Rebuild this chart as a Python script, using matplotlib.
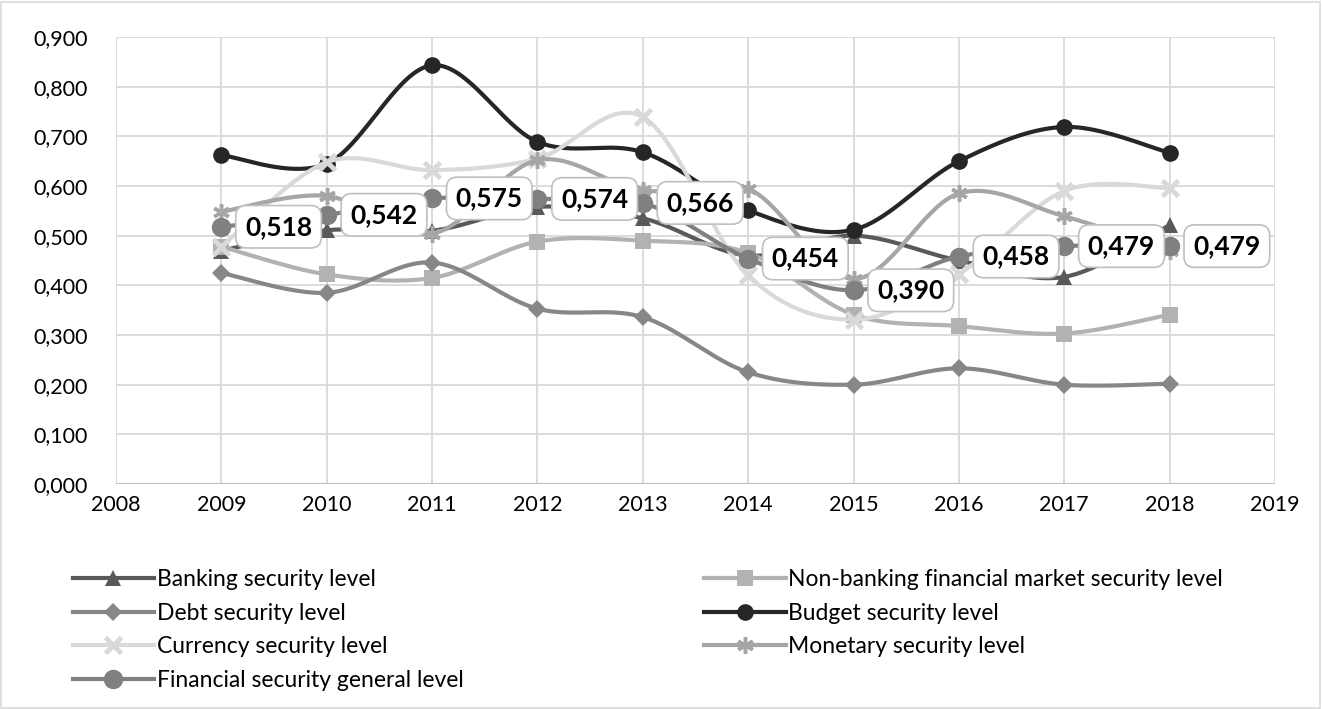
import numpy as np
import matplotlib
matplotlib.use('Agg')
import matplotlib.pyplot as plt
from matplotlib.lines import Line2D
from matplotlib.patches import Rectangle
from matplotlib.ticker import FuncFormatter

plt.rcParams['font.family'] = ['Lato', 'DejaVu Sans']

years = [2009, 2010, 2011, 2012, 2013, 2014, 2015, 2016, 2017, 2018]
banking = [0.470, 0.511, 0.510, 0.558, 0.535, 0.460, 0.500, 0.450, 0.417, 0.521]
nonbanking = [0.478, 0.422, 0.415, 0.488, 0.490, 0.465, 0.341, 0.318, 0.303, 0.341]
debt = [0.425, 0.385, 0.446, 0.353, 0.336, 0.225, 0.200, 0.233, 0.200, 0.202]
budget = [0.662, 0.645, 0.843, 0.689, 0.668, 0.551, 0.512, 0.650, 0.719, 0.667]
currency = [0.478, 0.648, 0.632, 0.655, 0.739, 0.420, 0.331, 0.423, 0.590, 0.596]
monetary = [0.548, 0.580, 0.504, 0.652, 0.591, 0.595, 0.413, 0.585, 0.539, 0.470]
general = [0.518, 0.542, 0.575, 0.574, 0.566, 0.454, 0.390, 0.458, 0.479, 0.479]

names = ['Banking security level', 'Non-banking financial market security level',
         'Debt security level', 'Budget security level',
         'Currency security level', 'Monetary security level',
         'Financial security general level']
series = [banking, nonbanking, debt, budget, currency, monetary, general]
colors = ['#595959', '#b2b2b2', '#878787', '#262626', '#d9d9d9', '#a6a6a6', '#808080']
markers = ['^', 's', 'D', 'o', 'x', (6, 2, 0), 'o']
msizes = [11, 11, 9, 12, 11, 12, 14]


def smooth(x, y, n=40):
    # Excel-style smoothed line (cubic Bezier through the points)
    p = np.column_stack([x, y]).astype(float)
    out = []
    for i in range(len(p) - 1):
        p0 = p[max(i - 1, 0)]
        p1 = p[i]
        p2 = p[i + 1]
        p3 = p[min(i + 2, len(p) - 1)]
        c1 = p1 + (p2 - p0) / 6
        c2 = p2 - (p3 - p1) / 6
        t = np.linspace(0, 1, n)[:, None]
        seg = (1 - t)**3 * p1 + 3 * (1 - t)**2 * t * c1 + 3 * (1 - t) * t**2 * c2 + t**3 * p2
        out.append(seg if i == 0 else seg[1:])
    return np.vstack(out)


fig = plt.figure(figsize=(13.23, 7.09), dpi=100)
ax = fig.add_axes([0.0877, 0.3173, 0.876, 0.6305])

handles = []
for i, (vals, name) in enumerate(zip(series, names)):
    c = smooth(years, vals)
    ax.plot(c[:, 0], c[:, 1], color=colors[i], lw=3, solid_capstyle='round', zorder=3 + i)
    mew = 3.5 if markers[i] == 'x' else (2.5 if i == 5 else 0)
    ax.plot(years, vals, ls='none', marker=markers[i], ms=msizes[i],
            color=colors[i], mec=colors[i], mew=mew, zorder=3 + i)
    handles.append(Line2D([], [], color=colors[i], lw=3, marker=markers[i],
                          ms=msizes[i], mec=colors[i], mew=mew))

for x, v in zip(years, general):
    ax.annotate(f'{v:.3f}'.replace('.', ','), (x, v), xytext=(17, 0),
                textcoords='offset points', ha='left', va='center',
                fontsize=19, fontweight='bold', color='black', zorder=20,
                bbox=dict(boxstyle='round,pad=0.35,rounding_size=0.4',
                          fc='white', ec='#bfbfbf', lw=1.2))

ax.set_xlim(2008, 2019)
ax.set_ylim(0, 0.9)
ax.set_xticks(range(2008, 2020))
ax.set_yticks(np.arange(0, 0.91, 0.1))
ax.yaxis.set_major_formatter(FuncFormatter(lambda v, p: f'{v:.3f}'.replace('.', ',')))
ax.grid(True, color='#d9d9d9', lw=1.3)
ax.set_axisbelow(True)
for s in ax.spines.values():
    s.set_visible(False)
ax.axhline(0, color='#bfbfbf', lw=1.5, zorder=2)
ax.tick_params(length=0, labelsize=15.5)
ax.tick_params(axis='y', pad=20)
ax.tick_params(axis='x', pad=8)

order = [0, 2, 4, 6, 1, 3, 5]
fig.legend([handles[k] for k in order], [names[k] for k in order],
           loc='upper left', bbox_to_anchor=(0.048, 0.21), ncol=2,
           frameon=False, fontsize=16.5, handlelength=3.56, handletextpad=0.1,
           labelspacing=0.55, columnspacing=10.5, borderaxespad=0)

fig.patches.append(Rectangle((0.001, 0.001), 0.997, 0.996, transform=fig.transFigure,
                             fill=False, ec='#d9d9d9', lw=1.2))

fig.savefig('out.png', dpi=100)
